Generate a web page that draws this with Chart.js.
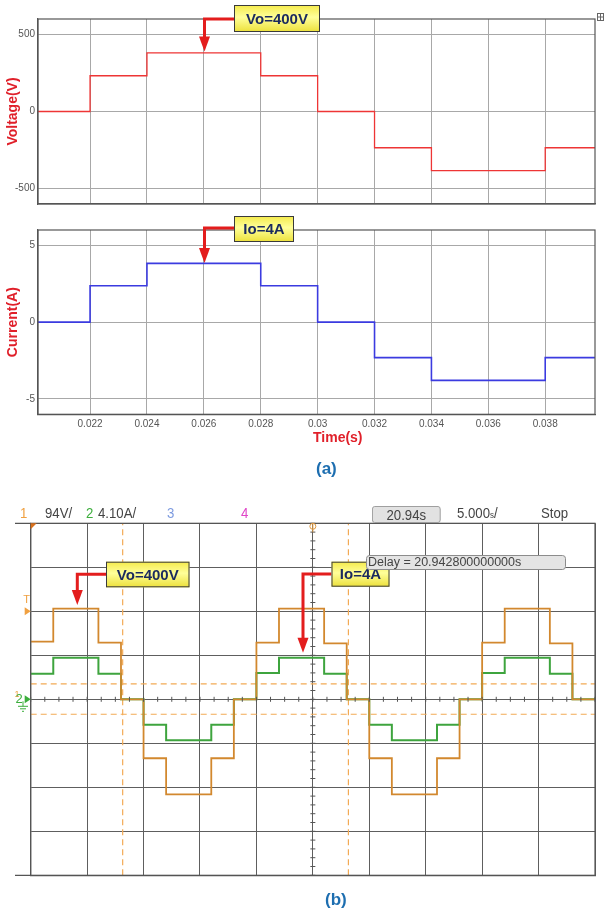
<!DOCTYPE html>
<html>
<head>
<meta charset="utf-8">
<script src="https://cdn.jsdelivr.net/npm/chart.js@4.4.1/dist/chart.umd.min.js"></script>
<style>
body { margin: 0; width: 604px; height: 912px; background: #fff; position: relative; overflow: hidden; font-family: "Liberation Sans", Arial, sans-serif; }
canvas { position: absolute; left: 0; }
.cap { position: absolute; font-weight: bold; line-height: 18px; white-space: nowrap; }
.hdr { position: absolute; top: 505px; font-family: "Liberation Sans", Arial, sans-serif; font-size: 15px; line-height: 16px; color: #444; white-space: nowrap; transform: scaleX(0.88); transform-origin: left center; }
.hbox { background: #e2e2e2; border: 1px solid #9a9a9a; border-radius: 3px; text-align: center; top: 506px; height: 15px; line-height: 15px; }
</style>
</head>
<body>
<canvas id="voltageChart" width="604" height="213" style="top:0"></canvas>
<canvas id="currentChart" width="604" height="220" style="top:213px"></canvas>
<canvas id="scopeChart" width="604" height="400" style="top:495px"></canvas>

<div class="cap" style="left:313px;top:428px;font-size:14px;color:#e0202a">Time(s)</div>
<div class="cap" style="left:316px;top:460px;font-size:17px;color:#1d6eb0">(a)</div>
<div class="cap" style="left:325px;top:891px;font-size:17px;color:#1d6eb0">(b)</div>

<div class="hdr" style="left:20px;color:#f0a040">1</div>
<div class="hdr" style="left:45px">94V/</div>
<div class="hdr" style="left:86px;color:#3cae3c">2</div>
<div class="hdr" style="left:98px">4.10A/</div>
<div class="hdr" style="left:167px;color:#7d9be0">3</div>
<div class="hdr" style="left:241px;color:#e045c8">4</div>
<div class="hdr hbox" style="left:372px;width:76px">20.94s</div>
<div class="hdr" style="left:457px">5.000<span style="font-size:9px">s</span>/</div>
<div class="hdr" style="left:541px">Stop</div>

<script>
// (a) simulation
const timeEdges = [0.02017, 0.022, 0.024, 0.028, 0.030, 0.032, 0.034, 0.038, 0.03975];
const voltageLevels = [0, 232, 380, 232, 0, -235, -383, -235, -235];
const currentLevels = [0, 2.37, 3.83, 2.37, 0, -2.31, -3.79, -2.31, -2.31];
const timeTicks = [0.022, 0.024, 0.026, 0.028, 0.030, 0.032, 0.034, 0.036, 0.038];
const voltageTicks = [-500, 0, 500];
const currentTicks = [-5, 0, 5];

// (b) oscilloscope, in divisions
const scopeTime = [0, 0.4, 1.2, 1.6, 2.0, 2.4, 3.2, 3.6, 4.0, 4.4, 5.2, 5.6, 6.0, 6.4, 7.2, 7.6, 8.0, 8.4, 9.2, 9.6, 10];
const scopeVoltage = [1.31, 2.06, 1.29, 0, -1.34, -2.16, -1.34, 0, 1.29, 2.06, 1.27, 0, -1.34, -2.16, -1.34, 0, 1.29, 2.06, 1.27, 0, 0];
const scopeCurrent = [0.58, 0.945, 0.58, 0, -0.58, -0.93, -0.58, 0, 0.6, 0.945, 0.58, 0, -0.58, -0.93, -0.58, 0, 0.6, 0.945, 0.58, 0, 0];
const scopeDivX = [0, 1, 2, 3, 4, 5, 6, 7, 8, 9, 10];
const scopeDivY = [-4, -3, -2, -1, 0, 1, 2, 3, 4];
const cursorTimes = [1.63, 5.63];
const cursorLevels = [0.35, -0.34];

const FONT = '"Liberation Sans", Arial, sans-serif';

function toPoints(xs, ys) {
    return xs.map((x, i) => ({ x: x, y: ys[i] }));
}

function setTicks(values) {
    return (axis) => { axis.ticks = values.map(v => ({ value: v })); };
}

const framePlugin = {
    id: 'frame',
    afterDraw(chart, args, opts) {
        const { ctx, chartArea: a } = chart;
        ctx.save();
        ctx.strokeStyle = opts.color || '#555';
        ctx.lineWidth = opts.width || 1;
        ctx.strokeRect(a.left, a.top, a.right - a.left, a.bottom - a.top);
        ctx.restore();
    }
};

function drawCallout(ctx, c) {
    ctx.save();
    ctx.strokeStyle = '#e31d1d';
    ctx.fillStyle = '#e31d1d';
    ctx.lineWidth = 3;
    ctx.beginPath();
    ctx.moveTo(c.box[0], c.elbowY);
    ctx.lineTo(c.tip[0], c.elbowY);
    ctx.lineTo(c.tip[0], c.tip[1] - 12);
    ctx.stroke();
    ctx.beginPath();
    ctx.moveTo(c.tip[0] - 5.5, c.tip[1] - 15);
    ctx.lineTo(c.tip[0] + 5.5, c.tip[1] - 15);
    ctx.lineTo(c.tip[0], c.tip[1]);
    ctx.closePath();
    ctx.fill();

    const [x, y, w, h] = c.box;
    const g = ctx.createLinearGradient(0, y, 0, y + h);
    g.addColorStop(0, '#f4ea4a');
    g.addColorStop(0.45, '#ffff9a');
    g.addColorStop(1, '#ece03a');
    ctx.fillStyle = g;
    ctx.fillRect(x, y, w, h);
    ctx.strokeStyle = '#3a3a3a';
    ctx.lineWidth = 1;
    ctx.strokeRect(x + 0.5, y + 0.5, w - 1, h - 1);
    ctx.fillStyle = '#1b2a5e';
    ctx.font = 'bold 15px ' + FONT;
    ctx.textAlign = 'center';
    ctx.textBaseline = 'middle';
    ctx.fillText(c.text, x + w / 2, y + h / 2 + 1);
    ctx.restore();
}

function calloutPlugin(list, before, after) {
    return {
        id: 'callouts',
        afterDraw(chart) {
            if (before) before(chart.ctx, chart);
            list.forEach(c => drawCallout(chart.ctx, c));
            if (after) after(chart.ctx, chart);
        }
    };
}

function simChart(id, levels, yTicks, yMax, color, width, title, padTop, padBottom, showX, callouts, extra) {
    return new Chart(document.getElementById(id), {
        type: 'line',
        data: {
            datasets: [{
                data: toPoints(timeEdges, levels),
                borderColor: color,
                borderWidth: width,
                stepped: true,
                pointRadius: 0,
                tension: 0,
            }]
        },
        options: {
            responsive: false,
            animation: false,
            events: [],
            layout: { padding: { left: 0, right: 9, top: padTop, bottom: padBottom } },
            plugins: {
                legend: { display: false },
                tooltip: { enabled: false },
                frame: { color: '#555', width: 1.2 },
            },
            scales: {
                x: {
                    type: 'linear',
                    min: timeEdges[0],
                    max: timeEdges[timeEdges.length - 1],
                    afterBuildTicks: setTicks(timeTicks),
                    afterFit: (s) => { s.height = showX ? 18.7 : 0; },
                    grid: { color: '#a8a8a8', lineWidth: 1, drawTicks: false },
                    border: { color: '#555', width: 1.2 },
                    ticks: {
                        display: showX,
                        padding: 4,
                        color: '#555',
                        font: { family: FONT, size: 10 },
                        maxRotation: 0,
                        autoSkip: false,
                        callback: (v) => String(Number(v.toFixed(3))),
                    },
                },
                y: {
                    min: -yMax,
                    max: yMax,
                    afterBuildTicks: setTicks(yTicks),
                    afterFit: (s) => { s.width = 38; },
                    grid: { color: '#a8a8a8', lineWidth: 1, drawTicks: false },
                    border: { color: '#555', width: 1.2 },
                    ticks: {
                        padding: 3,
                        color: '#555',
                        font: { family: FONT, size: 10 },
                    },
                    title: {
                        display: true,
                        text: title,
                        color: '#e0202a',
                        font: { family: FONT, size: 14, weight: 'bold' },
                        padding: { top: 4.6, bottom: 0 },
                    },
                },
            },
        },
        plugins: [framePlugin, calloutPlugin(callouts, extra)],
    });
}

// 전압 그래프
simChart('voltageChart', voltageLevels, voltageTicks, 600, '#ee3535', 1.3, 'Voltage(V)', 19, 3, false,
    [{ box: [234, 5, 86, 27], elbowY: 19, tip: [204.5, 51.5], text: 'Vo=400V' }],
    (ctx) => {
        ctx.save();
        ctx.strokeStyle = '#666';
        ctx.lineWidth = 1;
        ctx.strokeRect(597.5, 13.5, 6, 7);
        ctx.beginPath();
        ctx.moveTo(598, 17); ctx.lineTo(603, 17);
        ctx.moveTo(600.5, 14); ctx.lineTo(600.5, 20);
        ctx.stroke();
        ctx.restore();
    });

// 전류 그래프
simChart('currentChart', currentLevels, currentTicks, 6, '#3b3be0', 1.6, 'Current(A)', 17, 0, true,
    [{ box: [234, 3, 60, 26], elbowY: 15, tip: [204.5, 50], text: 'Io=4A' }]);

// 오실로스코프
const scopeDecor = (ctx, chart) => {
    const a = chart.chartArea;
    const xs = chart.scales.x, ys = chart.scales.y;
    ctx.save();
    // outer lines extending left
    ctx.strokeStyle = '#555';
    ctx.lineWidth = 1.2;
    ctx.beginPath();
    ctx.moveTo(15, a.top); ctx.lineTo(a.left, a.top);
    ctx.moveTo(15, a.bottom); ctx.lineTo(a.left, a.bottom);
    ctx.stroke();
    // minor ticks on centre lines
    ctx.lineWidth = 1;
    ctx.strokeStyle = '#555';
    const cx = xs.getPixelForValue(5), cy = ys.getPixelForValue(0);
    ctx.beginPath();
    for (let i = 0; i <= 40; i++) {
        const px = xs.getPixelForValue(i * 0.25);
        ctx.moveTo(px, cy - 2.5); ctx.lineTo(px, cy + 2.5);
    }
    for (let i = 0; i <= 40; i++) {
        const py = ys.getPixelForValue(-4 + i * 0.2);
        ctx.moveTo(cx - 2.5, py); ctx.lineTo(cx + 2.5, py);
    }
    ctx.stroke();
    // markers on the left
    ctx.fillStyle = '#d8701c';
    ctx.beginPath();
    ctx.moveTo(a.left, a.top); ctx.lineTo(a.left + 6, a.top); ctx.lineTo(a.left, a.top + 6);
    ctx.closePath(); ctx.fill();
    const trig = ys.getPixelForValue(2);
    ctx.fillStyle = '#f0a040';
    ctx.beginPath();
    ctx.moveTo(a.left - 6, trig - 4); ctx.lineTo(a.left, trig); ctx.lineTo(a.left - 6, trig + 4);
    ctx.closePath(); ctx.fill();
    ctx.font = '11px ' + FONT;
    ctx.textAlign = 'center';
    ctx.textBaseline = 'middle';
    ctx.fillText('T', a.left - 4, trig - 11);
    ctx.fillStyle = '#f0a040';
    ctx.font = '9px ' + FONT;
    ctx.fillText('1', 17, cy - 5);
    ctx.fillStyle = '#3cae3c';
    ctx.font = '13px ' + FONT;
    ctx.fillText('2', 19, cy);
    ctx.beginPath();
    ctx.moveTo(a.left - 6, cy - 4); ctx.lineTo(a.left, cy); ctx.lineTo(a.left - 6, cy + 4);
    ctx.closePath(); ctx.fill();
    ctx.strokeStyle = '#3cae3c';
    ctx.beginPath();
    ctx.moveTo(23, cy + 2); ctx.lineTo(23, cy + 7);
    ctx.moveTo(18, cy + 7); ctx.lineTo(28, cy + 7);
    ctx.moveTo(20, cy + 9.5); ctx.lineTo(26, cy + 9.5);
    ctx.moveTo(22, cy + 12); ctx.lineTo(24, cy + 12);
    ctx.stroke();
    // trigger position marker
    ctx.strokeStyle = '#e09a40';
    ctx.beginPath();
    ctx.arc(cx, a.top + 3, 3, 0, Math.PI * 2);
    ctx.moveTo(cx, a.top); ctx.lineTo(cx, a.top + 9);
    ctx.stroke();
    ctx.restore();
};

const delayReadout = (ctx) => {
    const dx = 366, dy = 60, dw = 199, dh = 14;
    ctx.save();
    ctx.fillStyle = '#e4e4e4';
    ctx.strokeStyle = '#8c8c8c';
    ctx.lineWidth = 1;
    ctx.beginPath();
    ctx.roundRect(dx + 0.5, dy + 0.5, dw, dh, 3);
    ctx.fill();
    ctx.stroke();
    ctx.fillStyle = '#444';
    ctx.font = '12.5px ' + FONT;
    ctx.textAlign = 'left';
    ctx.textBaseline = 'middle';
    ctx.fillText('Delay = 20.942800000000s', dx + 2, dy + dh / 2 + 1);
    ctx.restore();
};

const cursorSets = cursorTimes.map(t => ({
    data: [{ x: t, y: -4 }, { x: t, y: 4 }],
    borderColor: '#f2aa55', borderWidth: 1.2, borderDash: [6, 4], pointRadius: 0,
})).concat(cursorLevels.map(v => ({
    data: [{ x: 0, y: v }, { x: 10, y: v }],
    borderColor: '#f2aa55', borderWidth: 1.2, borderDash: [6, 4], pointRadius: 0,
})));

new Chart(document.getElementById('scopeChart'), {
    type: 'line',
    data: {
        datasets: [{
            data: toPoints(scopeTime, scopeVoltage),
            borderColor: '#d2882e',
            borderWidth: 1.8,
            stepped: true,
            pointRadius: 0,
        }, {
            data: toPoints(scopeTime, scopeCurrent),
            borderColor: '#3ea43e',
            borderWidth: 2,
            stepped: true,
            pointRadius: 0,
        }].concat(cursorSets),
    },
    options: {
        responsive: false,
        animation: false,
        events: [],
        layout: { padding: { left: 0, right: 9, top: 28.3, bottom: 19.7 } },
        plugins: {
            legend: { display: false },
            tooltip: { enabled: false },
            frame: { color: '#555', width: 1.2 },
        },
        scales: {
            x: {
                type: 'linear', min: 0, max: 10,
                afterBuildTicks: setTicks(scopeDivX),
                afterFit: (s) => { s.height = 0; },
                grid: { color: '#5e5e5e', lineWidth: 1, drawTicks: false },
                border: { color: '#555', width: 1.2 },
                ticks: { display: false },
            },
            y: {
                min: -4, max: 4,
                afterBuildTicks: setTicks(scopeDivY),
                afterFit: (s) => { s.width = 30.7; },
                grid: { color: '#5e5e5e', lineWidth: 1, drawTicks: false },
                border: { color: '#555', width: 1.2 },
                ticks: { display: false },
            },
        },
    },
    plugins: [framePlugin, calloutPlugin([
        { box: [106, 66.7, 83.5, 25.6], elbowY: 79.3, tip: [77.3, 110], text: 'Vo=400V' },
        { box: [331.5, 66.7, 58, 25], elbowY: 79, tip: [303, 157.7], text: 'Io=4A' },
    ], scopeDecor, delayReadout)],
});
</script>
</body>
</html>
